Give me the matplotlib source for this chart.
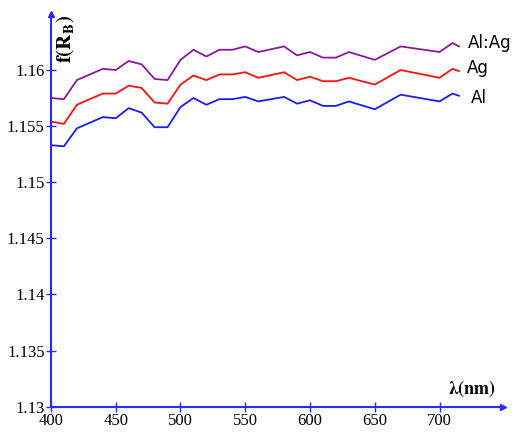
import numpy as np
import matplotlib
matplotlib.use('Agg')
import matplotlib.pyplot as plt

plt.rcParams['mathtext.fontset'] = 'stix'

wl = [400, 410, 420, 440, 450, 460, 470, 480, 490, 500, 510, 520, 530, 540,
      550, 560, 580, 590, 600, 610, 620, 630, 650, 670, 700, 710, 715]

al = [1.1533, 1.1532, 1.1548, 1.1558, 1.1557, 1.1566, 1.1562, 1.1549, 1.1549,
      1.1567, 1.1575, 1.1569, 1.1574, 1.1574, 1.1576, 1.1572, 1.1576, 1.1570,
      1.1573, 1.1568, 1.1568, 1.1572, 1.1565, 1.1578, 1.1572, 1.1579, 1.1577]

ag = [1.1554, 1.1552, 1.1569, 1.1579, 1.1579, 1.1586, 1.1584, 1.1571, 1.1570,
      1.1587, 1.1595, 1.1591, 1.1596, 1.1596, 1.1598, 1.1593, 1.1598, 1.1591,
      1.1594, 1.1590, 1.1590, 1.1593, 1.1587, 1.1600, 1.1593, 1.1601, 1.1599]

alag = [1.1575, 1.1574, 1.1591, 1.1601, 1.1600, 1.1608, 1.1605, 1.1592, 1.1591,
        1.1609, 1.1618, 1.1612, 1.1618, 1.1618, 1.1621, 1.1616, 1.1621, 1.1613,
        1.1616, 1.1611, 1.1611, 1.1616, 1.1609, 1.1621, 1.1616, 1.1624, 1.1621]

xticks = [400, 450, 500, 550, 600, 650, 700]
yticks = [1.13, 1.135, 1.14, 1.145, 1.15, 1.155, 1.16]
ytick_labels = ['1.13', '1.135', '1.14', '1.145', '1.15', '1.155', '1.16']

axis_col = '#2a2aff'

fig = plt.figure(figsize=(5.16, 4.37), dpi=100)
ax = fig.add_axes([0.0988, 0.0693, 0.876, 0.899])

ax.plot(wl, alag, color='#8b1a9b', lw=1.3)
ax.plot(wl, ag, color='#ff1010', lw=1.3)
ax.plot(wl, al, color='#1a1aff', lw=1.3)

ax.set_xlim(400, 749)
ax.set_ylim(1.13, 1.165)

# curve labels
ax.text(722, 1.1624, 'Al:Ag', fontsize=12, family='DejaVu Sans', va='center')
ax.text(721, 1.1602, 'Ag', fontsize=12, family='DejaVu Sans', va='center')
ax.text(724, 1.1575, 'Al', fontsize=12, family='DejaVu Sans', va='center')

for s in ['top', 'right']:
    ax.spines[s].set_visible(False)
for s in ['left', 'bottom']:
    ax.spines[s].set_color(axis_col)
    ax.spines[s].set_linewidth(1.5)

# arrow heads
ax.plot(1, 0, '>', color=axis_col, ms=4, transform=ax.transAxes, clip_on=False)
ax.plot(0, 1, '^', color=axis_col, ms=4, transform=ax.transAxes, clip_on=False)

ax.set_xticks(xticks)
ax.set_yticks(yticks)
ax.set_yticklabels(ytick_labels)
ax.tick_params(direction='inout', length=7, width=1, color=axis_col,
               labelsize=12, pad=1)
for lab in ax.get_xticklabels() + ax.get_yticklabels():
    lab.set_family('Liberation Serif')

ax.text(0.985, 0.02, r'$\mathbf{\lambda(nm)}$', transform=ax.transAxes,
        ha='right', va='bottom', fontsize=13)
ax.text(0.033, 0.998, r'$\mathbf{f(R_B)}$', transform=ax.transAxes,
        ha='center', va='top', rotation=90, fontsize=15)

fig.savefig('out.png', dpi=100)
